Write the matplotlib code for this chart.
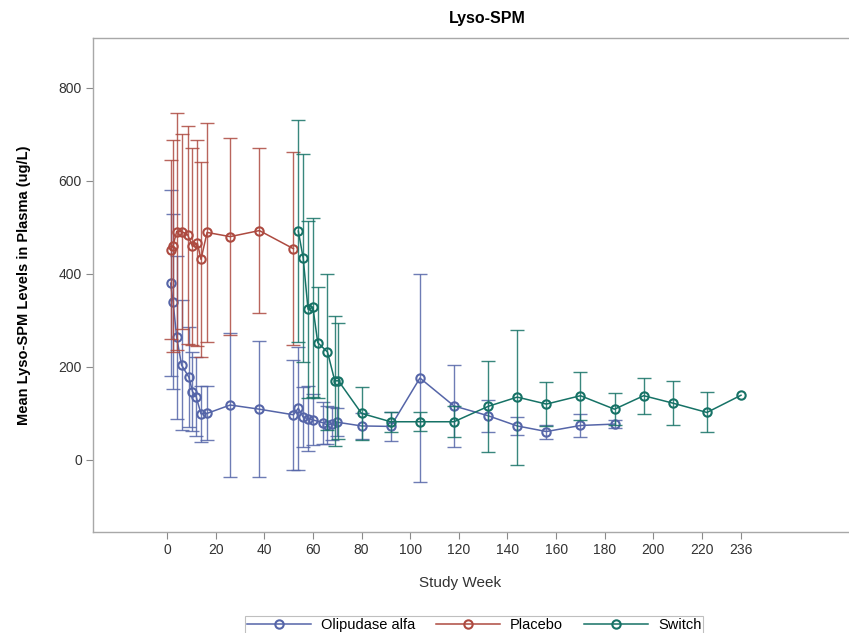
import numpy as np
import matplotlib
matplotlib.use('Agg')
import matplotlib.pyplot as plt

plt.rcParams['font.family'] = ['Liberation Sans Narrow', 'Liberation Sans', 'DejaVu Sans']

# Mean +/- SD of plasma lyso-SPM per study week, by treatment group
weeks_oli = [1.5, 2.5, 4, 6, 9, 10.5, 12, 14, 16.5, 26, 38, 52, 54, 56, 58, 60, 64, 66, 68, 70,
             80, 92, 104, 118, 132, 144, 156, 170, 184]
mean_oli = [380, 340, 264, 204, 178, 147, 136, 99, 100, 118, 109, 97, 111, 92, 89, 86, 80, 75, 78, 81,
            73, 72, 176, 116, 95, 73, 61, 74, 77]
sd_oli = [200, 188, 175, 140, 108, 85, 85, 60, 58, 155, 146, 118, 132, 65, 70, 55, 45, 40, 35, 30,
          28, 31, 224, 88, 34, 20, 15, 24, 8]

weeks_pbo = [1.5, 2.5, 4, 6, 8.5, 10.5, 12.5, 14, 16.5, 26, 38, 52]
mean_pbo = [452, 460, 491, 491, 484, 459, 466, 431, 489, 480, 493, 454]
sd_pbo = [192, 227, 254, 210, 234, 211, 221, 209, 236, 212, 178, 208]

weeks_sw = [54, 56, 58, 60, 62, 66, 69, 70.5, 80, 92, 104, 118, 132, 144, 156, 170, 184, 196, 208, 222, 236]
mean_sw = [492, 434, 324, 328, 252, 232, 170, 170, 100, 82, 82, 82, 115, 135, 120, 138, 109, 138, 122, 102, 139]
sd_sw = [238, 224, 190, 192, 120, 168, 140, 125, 57, 22, 20, 33, 97, 145, 47, 52, 34, 39, 47, 43, np.nan]

groups = [
    ('Olipudase alfa', weeks_oli, mean_oli, sd_oli, '#5565A8'),
    ('Placebo', weeks_pbo, mean_pbo, sd_pbo, '#AD4A40'),
    ('Switch', weeks_sw, mean_sw, sd_sw, '#167266'),
]

xticks = [0, 20, 40, 60, 80, 100, 120, 140, 160, 180, 200, 220, 236]
yticks = [0, 200, 400, 600, 800]

fig = plt.figure(figsize=(8.49, 6.33), dpi=100)
ax = fig.add_axes([93 / 849, 1 - 532 / 633, 1 - 93 / 849, (532 - 38) / 633])

for name, wk, mu, sd, col in groups:
    ax.errorbar(wk, mu, yerr=sd, fmt='none', ecolor=col, elinewidth=1.0,
                capsize=5, capthick=1.0, alpha=0.85)
    ax.plot(wk, mu, color=col, lw=1.1, marker='o', ms=6, mfc='none', mec=col, mew=1.5,
            label=name)

ax.set_xlim(-30.4, 280.4)
ax.set_ylim(-155, 907)
ax.set_xticks(xticks)
ax.set_yticks(yticks)
ax.tick_params(axis='both', direction='out', length=5, width=0.8, color='#8a8a8a',
               labelsize=10, labelcolor='#333333', pad=3)

for side in ['left', 'top', 'bottom']:
    ax.spines[side].set_color('#a8a8a8')
    ax.spines[side].set_linewidth(1.0)
ax.spines['right'].set_visible(False)

ax.set_xlabel('Study Week', fontsize=11, color='#333333')
ax.xaxis.set_label_coords(0.485, -0.09)
ax.set_ylabel('Mean Lyso-SPM Levels in Plasma (ug/L)', fontsize=10.5, fontweight='bold')
ax.yaxis.set_label_coords(-0.082, 0.5)

fig.text(487 / 849, 1 - 18 / 633, 'Lyso-SPM', ha='center', va='center',
         fontsize=11.5, fontweight='bold')

leg = fig.legend(loc='upper center', bbox_to_anchor=(474 / 849, 1 - 609 / 633), ncol=3,
                 frameon=True, fancybox=False, edgecolor='#b0b0b0', fontsize=10.5,
                 handlelength=4.4, columnspacing=1.4, handletextpad=0.7, borderpad=0.15)
leg.get_frame().set_linewidth(0.8)

fig.savefig('out.png', dpi=100)
